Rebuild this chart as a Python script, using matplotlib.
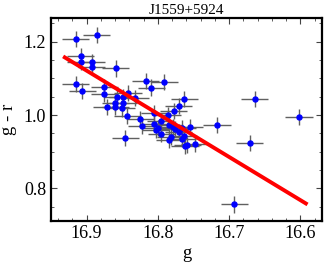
#!/usr/bin/env python3
import matplotlib
matplotlib.use("Agg")
import matplotlib.pyplot as plt
from matplotlib.ticker import MultipleLocator

# g magnitude and g - r colour of each epoch
g_mag = [16.915, 16.886, 16.908, 16.908, 16.893, 16.893, 16.859, 16.915, 16.906,
         16.875, 16.875, 16.817, 16.791, 16.809, 16.872, 16.860, 16.860, 16.857,
         16.849, 16.842, 16.849, 16.851, 16.832, 16.843, 16.846, 16.825, 16.823,
         16.805, 16.805, 16.800, 16.796, 16.795, 16.803, 16.786, 16.778, 16.771,
         16.763, 16.784, 16.779, 16.776, 16.771, 16.766, 16.755, 16.764, 16.766,
         16.782, 16.784, 16.762, 16.759, 16.748, 16.717, 16.664, 16.671, 16.602,
         16.693]
g_r = [1.208, 1.219, 1.162, 1.146, 1.144, 1.130, 1.127, 1.084, 1.065,
       1.076, 1.058, 1.093, 1.089, 1.075, 1.021, 1.034, 1.023, 1.048,
       1.050, 1.061, 1.032, 1.018, 1.046, 0.998, 0.938, 0.988, 0.970,
       1.006, 0.975, 0.965, 0.984, 0.948, 0.959, 1.000, 1.011, 1.025,
       1.044, 0.973, 0.968, 0.961, 0.954, 0.964, 0.968, 0.944, 0.935,
       0.941, 0.932, 0.916, 0.918, 0.920, 0.973, 1.044, 0.924, 0.994,
       0.756]
g_err = 0.019
gr_err = 0.022

# linear fit endpoints
fit_g = [16.933, 16.590]
fit_gr = [1.160, 0.756]

plt.rcParams['font.family'] = ['Liberation Serif', 'DejaVu Serif']

fig = plt.figure(figsize=(3.27, 2.69), dpi=100)
ax = fig.add_axes([0.156, 0.180, 0.828, 0.752])

ax.errorbar(g_mag, g_r, xerr=g_err, yerr=gr_err, fmt='o', color='#0000ff',
            markersize=3.6, ecolor='#606060', elinewidth=1.0, capsize=0, alpha=1.0, zorder=3)
ax.plot(fit_g, fit_gr, color='#ff0000', linewidth=2.8, solid_capstyle='butt', zorder=4)

ax.set_xlim(16.950, 16.570)
ax.set_ylim(0.712, 1.264)
ax.xaxis.set_major_locator(MultipleLocator(0.1))
ax.xaxis.set_minor_locator(MultipleLocator(0.02))
ax.yaxis.set_major_locator(MultipleLocator(0.2))
ax.yaxis.set_minor_locator(MultipleLocator(0.05))
ax.tick_params(which='both', direction='in', top=True, right=True, labelsize=13, color='#444444')
ax.tick_params(which='major', length=4, width=0.8)
ax.tick_params(which='minor', length=2, width=0.6)
for s in ax.spines.values():
    s.set_linewidth(1.6)

ax.set_xlabel('g', fontsize=13.5, labelpad=2)
ax.set_ylabel('g - r', fontsize=13.5, labelpad=5)
ax.set_title('J1559+5924', fontsize=11, pad=3)

plt.savefig("out.png", dpi=100)
